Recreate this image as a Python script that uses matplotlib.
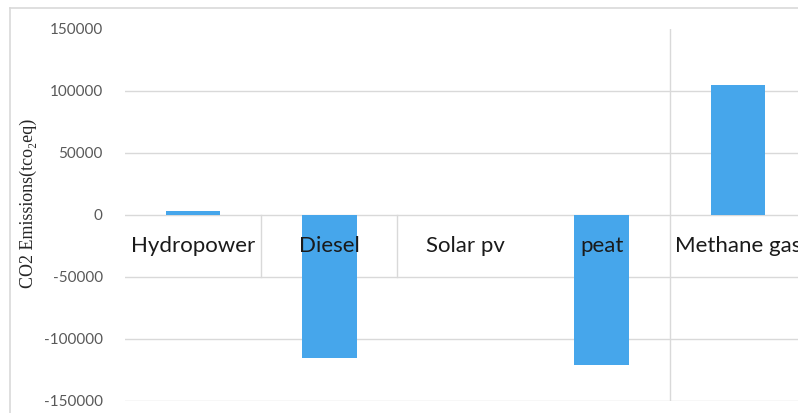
import matplotlib.pyplot as plt
from matplotlib.lines import Line2D

# Data
categories = ['Hydropower', 'Diesel', 'Solar pv', 'peat', 'Methane gas']
emissions = [3000, -115500, 0, -121000, 104500]
yticks = [-150000, -100000, -50000, 0, 50000, 100000, 150000]

bar_color = '#46A6EB'
grid_color = '#D9D9D9'

fig = plt.figure(figsize=(7.98, 4.13), dpi=100)
ax = fig.add_axes([125 / 798, 1 - 401 / 413, 681 / 798, 372 / 413])

x = list(range(len(categories)))
ax.bar(x, emissions, width=0.4, color=bar_color, zorder=2)

ax.set_xlim(-0.5, len(categories) - 0.5)
ax.set_ylim(-150000, 150000)
ax.set_yticks(yticks)
ax.set_yticklabels([str(v) for v in yticks], family='Lato', fontsize=11, color='#595959')
ax.tick_params(axis='y', length=0, pad=16)
ax.set_xticks([])

for s in ax.spines.values():
    s.set_visible(False)

# horizontal gridlines (no line at the top value)
for v in yticks[:-1]:
    ax.axhline(v, color=grid_color, lw=1, zorder=1)

# category separators near the axis and one full vertical gridline
for xb in [0.5, 1.5]:
    ax.plot([xb, xb], [0, -50000], color=grid_color, lw=1, zorder=1)
ax.axvline(3.5, color=grid_color, lw=1, zorder=1)

# category labels inside the plot, below zero
for i, name in enumerate(categories):
    ax.text(i, -25000, name, ha='center', va='center', fontsize=16,
            family='Lato', color='#1a1a1a', zorder=3)

ax.set_ylabel('CO2 Emissions(tco\u2082eq)', family=['Liberation Serif', 'DejaVu Serif'],
              fontsize=13, color='#262626', va='center')
ax.yaxis.set_label_coords(-97 / 681, 0.532)

# outer chart border (top and left)
fig.add_artist(Line2D([10 / 798, 1], [1 - 8 / 413, 1 - 8 / 413], color=grid_color, lw=1.2))
fig.add_artist(Line2D([10 / 798, 10 / 798], [0, 1 - 8 / 413], color=grid_color, lw=1.2))

fig.savefig('out.png', dpi=100)
